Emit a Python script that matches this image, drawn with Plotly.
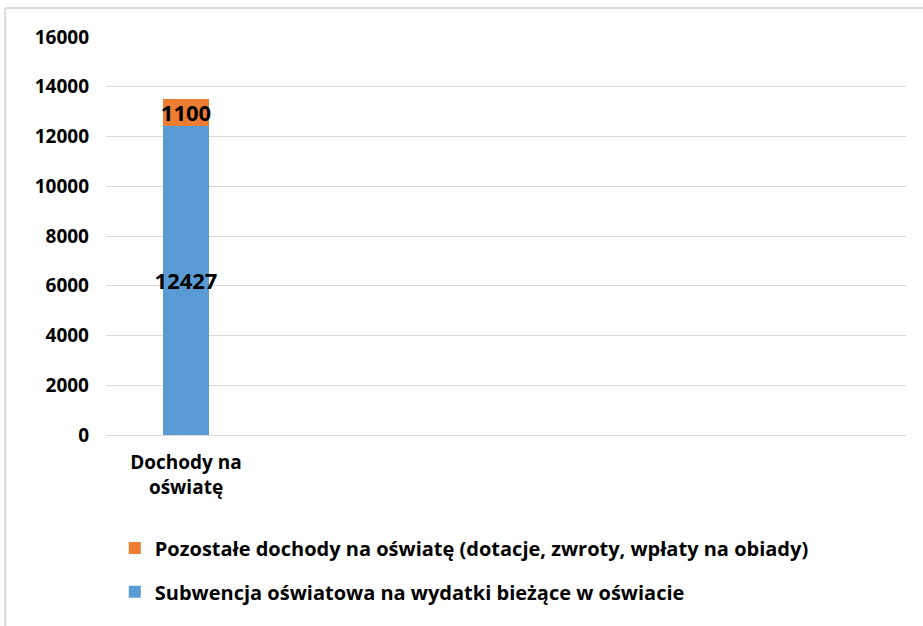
import plotly.graph_objects as go

categories = ["Dochody na<br>oświatę"]
subwencja = [12427]
pozostale = [1100]
series_names = [
    "Subwencja oświatowa na wydatki bieżące w oświacie",
    "Pozostałe dochody na oświatę (dotacje, zwroty, wpłaty na obiady)",
]
y_ticks = [0, 2000, 4000, 6000, 8000, 10000, 12000, 14000, 16000]

FONT = "Open Sans"
x_pos = list(range(len(categories)))

fig = go.Figure()

fig.add_trace(go.Bar(
    x=x_pos, y=subwencja, name=series_names[0], width=0.29,
    marker=dict(color="#5B9BD5", line=dict(width=0)),
    text=subwencja, texttemplate="<b>%{text}</b>", textposition="inside",
    textangle=0, insidetextanchor="middle",
    textfont=dict(size=22, color="black", family=FONT),
    legend="legend2",
))

fig.add_trace(go.Bar(
    x=x_pos, y=pozostale, name=series_names[1], width=0.29,
    marker=dict(color="#ED7D31", line=dict(width=0)),
    text=pozostale, texttemplate="<b>%{text}</b>", textposition="inside",
    textangle=0, insidetextanchor="middle",
    textfont=dict(size=22, color="black", family=FONT),
    legend="legend",
))

legend_style = dict(xanchor="left", yanchor="middle", bgcolor="rgba(0,0,0,0)",
                    font=dict(size=20, family=FONT, weight="bold", color="black"))

# chart frame: only the top and left edges are visible in the original
frame = dict(color="#d9d9d9", width=2)

fig.update_layout(
    barmode="stack",
    showlegend=True,
    width=923, height=626,
    margin=dict(l=106, r=17, t=37, b=191, autoexpand=False),
    paper_bgcolor="white", plot_bgcolor="white",
    font=dict(family=FONT, size=19, color="black"),
    uniformtext=dict(minsize=22, mode="show"),
    legend=dict(x=0.011, y=-0.284, **legend_style),
    legend2=dict(x=0.011, y=-0.394, **legend_style),
    shapes=[
        dict(type="line", xref="paper", yref="paper",
             x0=-0.126, x1=1.03, y0=1.073, y1=1.073, line=frame, layer="below"),
        dict(type="line", xref="paper", yref="paper",
             x0=-0.126, x1=-0.126, y0=-0.5, y1=1.073, line=frame, layer="below"),
    ],
)

fig.update_xaxes(
    range=[-0.5, 4.5], tickvals=x_pos, ticktext=categories,
    showgrid=False, zeroline=False, showline=False,
    tickfont=dict(size=19, family=FONT, weight="bold"),
    ticks="outside", ticklen=10, tickcolor="rgba(0,0,0,0)",
)
fig.update_yaxes(
    range=[0, 16000], tickvals=y_ticks, ticktext=[str(v) for v in y_ticks],
    showgrid=True, gridcolor="#d9d9d9",
    gridwidth=1, zeroline=True, zerolinecolor="#d9d9d9", zerolinewidth=1,
    tickfont=dict(size=19, family=FONT, weight="bold"),
    ticklabelstandoff=16,
)

fig.write_html("out.html", config=dict(displayModeBar=False),
               post_script="document.body.style.margin='0';")
